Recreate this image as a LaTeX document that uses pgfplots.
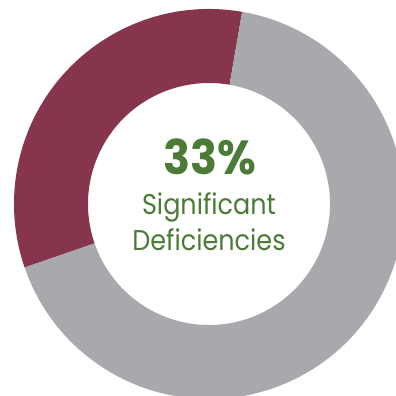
\documentclass[border=0pt]{standalone}
\usepackage{graphicx}
\usepackage{pgfplots}
\pgfplotsset{compat=1.18}
\usepackage{pgfplotstable}
\usepackage{fontspec}
\setmainfont{Poppins}
\definecolor{maroon}{HTML}{87354D}
\definecolor{greyseg}{HTML}{A8A9AD}
\definecolor{txtgreen}{HTML}{4B7B37}
\pgfplotstableread{
label value
Significant 33
Other 67
}\donutdata
\begin{document}
\begin{tikzpicture}
\begin{axis}[x=1pt,y=1pt,xmin=0,xmax=396,ymin=0,ymax=396,hide axis,
  at={(0,0)},anchor=south west,clip=true]
\pgfplotstablegetelem{0}{value}\of\donutdata \let\va\pgfplotsretval
\pgfplotstablegetelem{1}{value}\of\donutdata \let\vb\pgfplotsretval
\pgfmathsetmacro{\aa}{80.2}
\pgfmathsetmacro{\ab}{\aa+3.6*\va}
\pgfmathsetmacro{\ac}{\ab+3.6*\vb}
\fill[maroon] (axis cs:209,192) ++(\aa:195pt) arc[start angle=\aa,end angle=\ab,radius=195pt] -- ++(\ab:-74pt) arc[start angle=\ab,end angle=\aa,radius=121pt] -- cycle;
\fill[greyseg] (axis cs:209,192) ++(\ab:195pt) arc[start angle=\ab,end angle=\ac,radius=195pt] -- ++(\ac:-74pt) arc[start angle=\ac,end angle=\ab,radius=121pt] -- cycle;
\node[anchor=base,text=txtgreen,font=\fontsize{46}{50}\selectfont\bfseries,inner sep=0pt] at (axis cs:210,221) {\scalebox{0.97}[1.04]{33\%}};
\node[anchor=base,text=txtgreen,font=\fontsize{28}{32}\selectfont,inner sep=0pt] at (axis cs:209,181) {\scalebox{0.91}[1.02]{Significant}};
\node[anchor=base,text=txtgreen,font=\fontsize{28}{32}\selectfont,inner sep=0pt] at (axis cs:209,145) {\scalebox{0.91}[1.02]{Deficiencies}};
\end{axis}
\pgfresetboundingbox
\useasboundingbox (0,0) rectangle (396pt,396pt);
\end{tikzpicture}
\end{document}
